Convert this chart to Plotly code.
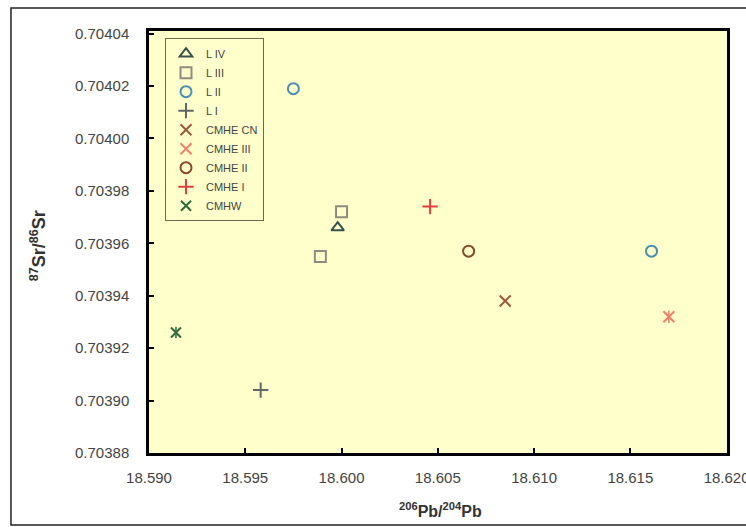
import plotly.graph_objects as go

# ---- data ----
series_names = ["L IV", "L III", "L II", "L I", "CMHE CN", "CMHE III", "CMHE II", "CMHE I", "CMHW"]
x_LIV = [18.5998]
y_LIV = [0.703966]
x_LIII = [18.6000, 18.5989]
y_LIII = [0.703972, 0.703955]
x_LII = [18.5975, 18.6161]
y_LII = [0.704019, 0.703957]
x_LI = [18.5958]
y_LI = [0.703904]
x_CN = [18.6085]
y_CN = [0.703938]
x_CIII = [18.6170]
y_CIII = [0.703932]
x_CII = [18.6066]
y_CII = [0.703957]
x_CI = [18.6046]
y_CI = [0.703974]
x_CMHW = [18.5914]
y_CMHW = [0.703926]

x_ticks = [18.590, 18.595, 18.600, 18.605, 18.610, 18.615, 18.620]
y_ticks = [0.70388, 0.70390, 0.70392, 0.70394, 0.70396, 0.70398, 0.70400, 0.70402, 0.70404]

# ---- styles ----
styles = [
    (x_LIV, y_LIV, "triangle-up-open", "#3a5050", 11),
    (x_LIII, y_LIII, "square-open", "#8c8c80", 11),
    (x_LII, y_LII, "circle-open", "#4a8fb0", 11),
    (x_LI, y_LI, "cross-thin-open", "#606868", 11),
    (x_CN, y_CN, "x-thin-open", "#9a5a3a", 11),
    (x_CIII, y_CIII, "x-thin-open", "#f0806a", 11),
    (x_CII, y_CII, "circle-open", "#8a4a2a", 11),
    (x_CI, y_CI, "cross-thin-open", "#e04040", 11),
    (x_CMHW, y_CMHW, "x-thin-open", "#2e6a3a", 10),
]

fig = go.Figure()
for name, (xs, ys, sym, col, sz) in zip(series_names, styles):
    fig.add_trace(go.Scatter(
        x=xs, y=ys, mode="markers", name=name, legendgroup=name,
        marker=dict(symbol=sym, size=sz, color=col, line=dict(color=col, width=2)),
    ))
    if name in ("CMHE III", "CMHW"):
        fig.add_trace(go.Scatter(
            x=xs, y=ys, mode="markers", name=name, legendgroup=name, showlegend=False,
            marker=dict(symbol="line-ns-open", size=sz - 2, color=col, line=dict(color=col, width=1.5)),
        ))

axis_font = dict(family="Liberation Sans, Arial", size=15, color="#444444")

fig.update_layout(
    width=746, height=527,
    margin=dict(l=149, r=19, t=31, b=74, autoexpand=False),
    paper_bgcolor="white",
    plot_bgcolor="#FFFFCC",
    font=dict(family="Liberation Sans, Arial", color="#333333"),
    showlegend=True,
    legend=dict(
        x=0.0277, y=0.983, xanchor="left", yanchor="top",
        bgcolor="#FFFFCC", bordercolor="#6a6a50", borderwidth=1,
        font=dict(family="Liberation Sans, Arial", size=11, color="#444444"),
        tracegroupgap=0, itemwidth=30,
    ),
    xaxis=dict(
        range=[18.590, 18.62002], tickvals=x_ticks,
        ticktext=[f"{v:.3f}" for v in x_ticks],
        showgrid=False, zeroline=False, automargin=False,
        showline=True, linecolor="black", linewidth=2.5, mirror=True,
        ticks="inside", ticklen=5, tickwidth=2, tickcolor="black",
        tickfont=axis_font, ticklabelstandoff=9, ticklabeloverflow="allow",
    ),
    yaxis=dict(
        range=[0.70388, 0.704041], tickvals=y_ticks,
        ticktext=[f"{v:.5f}" for v in y_ticks],
        showgrid=False, zeroline=False, automargin=False,
        showline=True, linecolor="black", linewidth=2.5, mirror=True,
        ticks="inside", ticklen=5, tickwidth=2, tickcolor="black",
        tickfont=axis_font, ticklabelstandoff=14,
    ),
    shapes=[dict(
        type="rect", xref="paper", yref="paper",
        x0=-0.2388, x1=1.2, y0=-0.1706, y1=1.0545,
        line=dict(color="#222222", width=1.5), fillcolor="rgba(0,0,0,0)", layer="below",
    )],
    annotations=[
        dict(text="<b><sup>87</sup>Sr/<sup>86</sup>Sr</b>", xref="paper", yref="paper",
             x=-0.192, y=0.49, xanchor="center", yanchor="middle", textangle=-90, showarrow=False,
             font=dict(family="Liberation Sans, Arial", size=18, color="#333333")),
        dict(text="<b><sup>206</sup>Pb/<sup>204</sup>Pb</b>", xref="paper", yref="paper",
             x=0.5035, y=-0.135, xanchor="center", yanchor="middle", showarrow=False,
             font=dict(family="Liberation Sans, Arial", size=16, color="#333333")),
    ],
)

fig.write_html("out.html")
